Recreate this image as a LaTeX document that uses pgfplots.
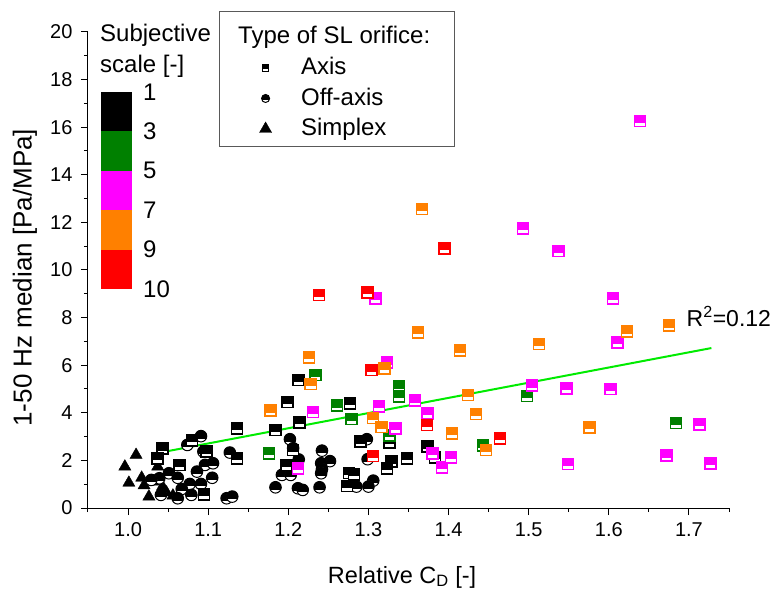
\documentclass[border=0pt]{standalone}
\usepackage{fontspec}
\setmainfont{Liberation Sans}
\usepackage{pgfplots}
\pgfplotsset{compat=1.18}

\definecolor{cgreen}{RGB}{0,128,0}
\definecolor{cmag}{RGB}{255,0,255}
\definecolor{corange}{RGB}{255,128,0}
\definecolor{cred}{RGB}{255,0,0}
\definecolor{clime}{RGB}{0,235,0}

\pgfdeclareplotmark{hsq}{%
  \begin{pgfscope}%
  \pgfsetfillcolor{white}%
  \pgfpathrectangle{\pgfqpoint{-\pgfplotmarksize}{-\pgfplotmarksize}}{\pgfqpoint{2\pgfplotmarksize}{2\pgfplotmarksize}}%
  \pgfusepathqfill
  \end{pgfscope}%
  \pgfpathrectangle{\pgfqpoint{-\pgfplotmarksize}{-0.35\pgfplotmarksize}}{\pgfqpoint{2\pgfplotmarksize}{1.35\pgfplotmarksize}}%
  \pgfusepathqfill
  \pgfpathrectangle{\pgfqpoint{-\pgfplotmarksize}{-\pgfplotmarksize}}{\pgfqpoint{2\pgfplotmarksize}{2\pgfplotmarksize}}%
  \pgfusepathqstroke
}
\pgfdeclareplotmark{hci}{%
  \begin{pgfscope}%
  \pgfsetfillcolor{white}%
  \pgfpathcircle{\pgfpointorigin}{\pgfplotmarksize}%
  \pgfusepathqfill
  \end{pgfscope}%
  \begin{pgfscope}%
  \pgfpathrectangle{\pgfqpoint{-1.2\pgfplotmarksize}{-0.35\pgfplotmarksize}}{\pgfqpoint{2.4\pgfplotmarksize}{1.6\pgfplotmarksize}}%
  \pgfusepath{clip}%
  \pgfpathcircle{\pgfpointorigin}{\pgfplotmarksize}%
  \pgfusepathqfill
  \end{pgfscope}%
  \pgfpathcircle{\pgfpointorigin}{\pgfplotmarksize}%
  \pgfusepathqstroke
}

\begin{document}
\begin{tikzpicture}
\begin{axis}[
  scale only axis, width=641pt, height=476pt,
  xmin=0.95, xmax=1.75, ymin=0, ymax=20,
  axis x line*=bottom, axis y line*=left,
  axis line style={line width=1pt, black},
  xtick={1.0,1.1,1.2,1.3,1.4,1.5,1.6,1.7},
  minor xtick={0.95,1.05,1.15,1.25,1.35,1.45,1.55,1.65,1.75},
  ytick={0,2,4,6,8,10,12,14,16,18,20},
  minor ytick={1,3,5,7,9,11,13,15,17,19},
  tick align=outside,
  major tick length=7pt, minor tick length=4pt,
  every tick/.style={black, line width=1pt},
  /pgf/number format/assume math mode=true,
  ticklabel style={font=\fontsize{20}{24}\selectfont},
  xticklabel style={/pgf/number format/.cd, fixed, fixed zerofill, precision=1, /tikz/.cd, yshift=-4pt},
  yticklabel style={xshift=-5pt},
  xlabel={Relative C\textsubscript{D} [-]},
  ylabel={1-50 Hz median [Pa/MPa]},
  xlabel style={font=\fontsize{23.5}{28}\selectfont, at={(axis description cs:0.49,-0.1576)}, anchor=base},
  ylabel style={font=\fontsize{26}{30}\selectfont, at={(axis description cs:-0.0983,0.484)}, anchor=center},
  clip=false,
  legend style={at={(axis description cs:0.2676,0.9517)}, anchor=north west,
    draw=none, fill=none, inner sep=0pt, outer sep=0pt,
    font=\fontsize{24}{28}\selectfont, row sep=0pt, column sep=29.5pt,
    nodes={inner sep=0pt, outer sep=0pt, text height=20pt, text depth=10.5pt},
    cells={anchor=base west}},
  legend image code/.code={\draw[#1] plot coordinates {(0pt,7pt)};},
]
\coordinate (SW) at (rel axis cs:0,0);
\coordinate (NE) at (rel axis cs:1,1);

% legend box and texts
\draw[draw=gray!70!black, line width=1pt, fill=white] (axis description cs:0.2059,1.042) rectangle (axis description cs:0.5725,0.7584);
\node[anchor=base west, inner sep=0pt, font=\fontsize{24}{28}\selectfont] at (axis description cs:0.234,0.9763) {Type of SL orifice:};

% subjective scale
\node[anchor=base west, inner sep=0pt, font=\fontsize{24}{28}\selectfont] at (axis description cs:0.0187,0.9796) {Subjective};
\node[anchor=base west, inner sep=0pt, font=\fontsize{24}{28}\selectfont] at (axis description cs:0.0187,0.9139) {scale [-]};
\fill[black]   (axis description cs:0.0203,0.874)  rectangle (axis description cs:0.0686,0.7912);
\fill[cgreen]  (axis description cs:0.0203,0.7912) rectangle (axis description cs:0.0686,0.7084);
\fill[cmag]    (axis description cs:0.0203,0.7084) rectangle (axis description cs:0.0686,0.6256);
\fill[corange] (axis description cs:0.0203,0.6256) rectangle (axis description cs:0.0686,0.5428);
\fill[cred]    (axis description cs:0.0203,0.5428) rectangle (axis description cs:0.0686,0.4600);
\begin{scope}[every node/.style={anchor=west, inner sep=0pt, font=\fontsize{24}{28}\selectfont}]
\node at (axis description cs:0.0858,0.874) {1};
\node at (axis description cs:0.0858,0.7912) {3};
\node at (axis description cs:0.0858,0.7084) {5};
\node at (axis description cs:0.0858,0.6256) {7};
\node at (axis description cs:0.0858,0.5428) {9};
\node at (axis description cs:0.0858,0.4600) {10};
\end{scope}

\addlegendimage{mark=hsq, black, mark size=3.3pt, mark options={line width=1pt}}
\addlegendentry{Axis}
\addlegendimage{mark=hci, black, mark size=4pt, mark options={line width=1pt}}
\addlegendentry{Off-axis}
\addlegendimage{mark=triangle*, black, mark size=7pt}
\addlegendentry{Simplex}

% Simplex (triangles)
\addplot[only marks, mark=triangle*, black, mark size=7pt, forget plot] table {
x y
1.010 2.23
0.996 1.74
1.001 1.06
1.017 1.27
1.037 1.74
1.026 0.48
1.056 0.52
1.033 1.11
1.043 0.90
1.048 0.65
1.020 0.95
};

% Off-axis (circles)
\addplot[only marks, mark=hci, black, mark size=5.8pt, mark options={line width=1pt}, forget plot] table {
x y
1.091 3.02
1.074 2.65
1.094 2.37
1.096 1.81
1.106 1.88
1.127 2.33
1.086 1.53
1.105 1.27
1.051 1.46
1.062 1.27
1.039 1.25
1.077 1.01
1.091 1.01
1.067 0.80
1.079 0.55
1.062 0.41
1.041 0.55
1.123 0.41
1.130 0.48
1.029 1.18
1.202 2.89
1.206 2.51
1.213 2.04
1.203 1.76
1.192 1.39
1.203 1.39
1.184 0.87
1.212 0.83
1.218 0.76
1.239 0.87
1.242 2.41
1.252 1.97
1.241 1.88
1.242 1.63
1.241 1.46
1.298 2.89
1.299 2.05
1.306 1.15
1.300 0.90
1.285 0.90
};

% Axis, scale 1-3 (black)
\addplot[only marks, mark=hsq, black, mark size=5.5pt, mark options={line width=1.5pt}, forget plot] table {
x y
1.213 5.38
1.199 4.45
1.277 4.40
1.214 3.59
1.184 3.28
1.136 3.34
1.136 2.08
1.095 0.57
1.064 1.80
1.043 2.49
1.037 2.09
1.098 2.37
1.080 2.84
1.206 2.44
1.198 1.81
1.276 1.48
1.282 1.41
1.273 0.92
1.290 2.79
1.326 2.75
1.329 1.95
1.323 1.67
1.348 2.09
1.374 2.58
1.383 2.13
};

% scale 3-5 (green)
\addplot[only marks, mark=hsq, cgreen, mark size=5.5pt, mark options={line width=1.5pt}, forget plot] table {
x y
1.234 5.59
1.338 5.10
1.338 4.69
1.261 4.30
1.279 3.73
1.326 3.05
1.176 2.30
1.498 4.71
1.443 2.62
1.684 3.58
};

% scale 5-7 (magenta)
\addplot[only marks, mark=hsq, cmag, mark size=5.5pt, mark options={line width=1.5pt}, forget plot] table {
x y
1.639 16.26
1.493 11.75
1.537 10.80
1.605 8.80
1.611 6.96
1.309 8.81
1.323 6.11
1.358 4.51
1.313 4.27
1.231 4.03
1.334 3.35
1.374 3.98
1.380 2.30
1.392 1.71
1.403 2.13
1.212 1.67
1.504 5.14
1.547 5.03
1.602 5.00
1.549 1.84
1.713 3.51
1.672 2.20
1.727 1.88
};

% scale 7-9 (orange)
\addplot[only marks, mark=hsq, corange, mark size=5.5pt, mark options={line width=1.5pt}, forget plot] table {
x y
1.367 12.56
1.623 7.41
1.675 7.66
1.513 6.89
1.414 6.61
1.362 7.38
1.226 6.33
1.228 5.20
1.320 5.86
1.306 3.79
1.316 3.40
1.178 4.09
1.404 3.14
1.424 4.75
1.434 3.94
1.447 2.44
1.576 3.39
};

% scale 9-10 (red)
\addplot[only marks, mark=hsq, cred, mark size=5.5pt, mark options={line width=1.5pt}, forget plot] table {
x y
1.395 10.91
1.299 9.06
1.238 8.95
1.304 5.80
1.373 3.49
1.306 2.18
1.464 2.93
};

% linear fit
\addplot[clime, line width=2pt, no marks, forget plot] coordinates {(1.037,2.31) (1.728,6.72)};
\node[anchor=base west, inner sep=0pt, font=\fontsize{23}{27}\selectfont] at (axis cs:1.697,7.62) {R\textsuperscript{2}=0.12};
\end{axis}
\pgfresetboundingbox
\path ([shift={(-88pt,-82pt)}]SW) rectangle ([shift={(50pt,32pt)}]NE);
\end{tikzpicture}
\end{document}
